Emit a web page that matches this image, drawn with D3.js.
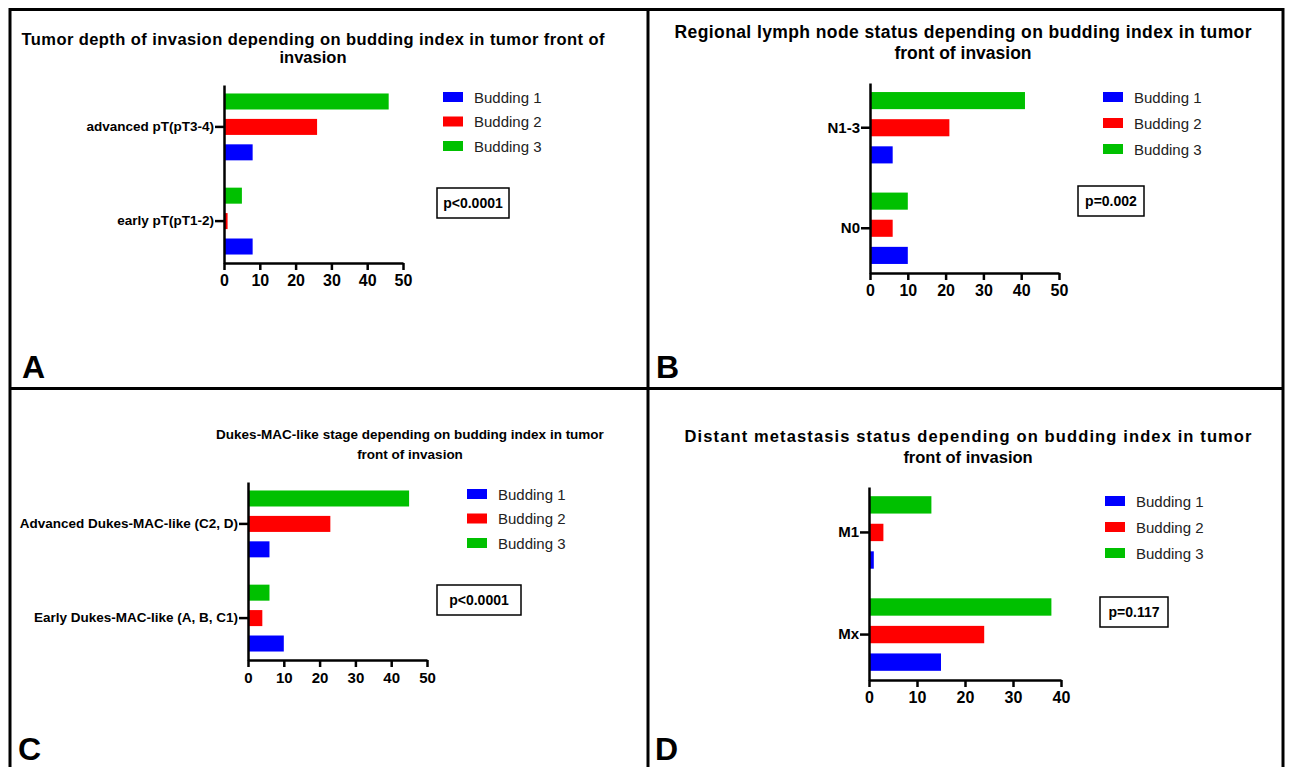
<!DOCTYPE html>
<html>
<head>
<meta charset="utf-8">
<script src="https://cdn.jsdelivr.net/npm/d3@7"></script>
<style>
  body { margin: 0; background: #fff; }
  svg { display: block; font-family: "Liberation Sans", Arial, sans-serif; }
  .axis path, .axis line { stroke: #000; stroke-width: 2.5; }
  .axis text { font-weight: bold; fill: #000; }
</style>
</head>
<body>
<div id="chart"></div>
<script>
// budding index vs. four clinical parameters, 2x2 panels

var seriesNames = ["Budding 1", "Budding 2", "Budding 3"];
var seriesColors = ["#0000ff", "#ff0000", "#00c000"];

// A - depth of invasion (categories listed top to bottom)
var categoriesA = ["advanced pT(pT3-4)", "early pT(pT1-2)"];
var budding1A = [8, 8];
var budding2A = [26, 1];
var budding3A = [46, 5];
var ticksA = [0, 10, 20, 30, 40, 50];

// B - lymph node status
var categoriesB = ["N1-3", "N0"];
var budding1B = [6, 10];
var budding2B = [21, 6];
var budding3B = [41, 10];
var ticksB = [0, 10, 20, 30, 40, 50];

// C - Dukes-MAC-like stage
var categoriesC = ["Advanced Dukes-MAC-like (C2, D)", "Early Dukes-MAC-like (A, B, C1)"];
var budding1C = [6, 10];
var budding2C = [23, 4];
var budding3C = [45, 6];
var ticksC = [0, 10, 20, 30, 40, 50];

// D - distant metastasis
var categoriesD = ["M1", "Mx"];
var budding1D = [1, 15];
var budding2D = [3, 24];
var budding3D = [13, 38];
var ticksD = [0, 10, 20, 30, 40];

var panels = [
  { letter: "A", cats: categoriesA, vals: [budding1A, budding2A, budding3A], ticks: ticksA,
    title: ["Tumor depth of invasion depending on budding index in tumor front of", "invasion"],
    pText: "p<0.0001",
    plot: { x0: 224, x1: 403, y0: 85, y1: 263 },
    fs: { x: 16, y: 13.5 },
    t: { x: 313, y: 40, gap: 18, size: 16.5, len: 583 },
    lg: { x: 443, y: 97, gap: 24.5 },
    pb: { x: 437, y: 188, w: 72, h: 30 },
    lt: { x: 22, y: 378 } },
  { letter: "B", cats: categoriesB, vals: [budding1B, budding2B, budding3B], ticks: ticksB,
    title: ["Regional lymph node status depending on budding index in tumor", "front of invasion"],
    pText: "p=0.002",
    plot: { x0: 870, x1: 1059, y0: 83, y1: 273 },
    fs: { x: 16, y: 15 },
    t: { x: 963, y: 33, gap: 21, size: 17.5, len: 577 },
    lg: { x: 1103, y: 97, gap: 26 },
    pb: { x: 1078, y: 186, w: 66, h: 30 },
    lt: { x: 656, y: 378 } },
  { letter: "C", cats: categoriesC, vals: [budding1C, budding2C, budding3C], ticks: ticksC,
    title: ["Dukes-MAC-like stage depending on budding index in tumor", "front of invasion"],
    pText: "p<0.0001",
    plot: { x0: 248, x1: 427, y0: 482, y1: 660 },
    fs: { x: 15, y: 13.5 },
    t: { x: 410, y: 434, gap: 20, size: 13.5, len: 0 },
    lg: { x: 467, y: 494, gap: 24.5 },
    pb: { x: 437, y: 585, w: 84, h: 30 },
    lt: { x: 18, y: 760 } },
  { letter: "D", cats: categoriesD, vals: [budding1D, budding2D, budding3D], ticks: ticksD,
    title: ["Distant metastasis status depending on budding index in tumor", "front of invasion"],
    pText: "p=0.117",
    plot: { x0: 869, x1: 1061, y0: 487, y1: 680 },
    fs: { x: 16, y: 15 },
    t: { x: 968, y: 437, gap: 21, size: 16.5, len: 567 },
    lg: { x: 1105, y: 501, gap: 26 },
    pb: { x: 1100, y: 597, w: 68, h: 30 },
    lt: { x: 655, y: 760 } }
];

var svg = d3.select("#chart")
  .append("svg")
  .attr("width", 1293)
  .attr("height", 767);

// frame and dividers
var frame = svg.append("g")
  .attr("stroke", "#000")
  .attr("stroke-width", 3)
  .attr("fill", "none");
frame.append("rect").attr("x", 10).attr("y", 9.5).attr("width", 1273).attr("height", 760);
frame.append("line").attr("x1", 648).attr("x2", 648).attr("y1", 9).attr("y2", 767);
frame.append("line").attr("x1", 10).attr("x2", 1283).attr("y1", 388.5).attr("y2", 388.5);

panels.forEach(function(p) {
  var g = svg.append("g");

  var x = d3.scaleLinear()
    .domain([0, d3.max(p.ticks)])
    .range([p.plot.x0, p.plot.x1]);

  var y0 = d3.scaleBand()
    .domain(p.cats)
    .range([p.plot.y0, p.plot.y1])
    .paddingInner(0.29)
    .paddingOuter(0.09);

  // green on top, blue at bottom within each group
  var y1 = d3.scaleBand()
    .domain([2, 1, 0])
    .range([0, y0.bandwidth()])
    .paddingInner(0.37);

  var rows = [];
  p.cats.forEach(function(c, ci) {
    p.vals.forEach(function(arr, si) {
      rows.push({ cat: c, s: si, v: arr[ci] });
    });
  });

  g.selectAll(".bar")
    .data(rows)
    .enter().append("rect")
    .attr("class", "bar")
    .attr("x", x(0))
    .attr("y", function(d) { return y0(d.cat) + y1(d.s); })
    .attr("width", function(d) { return x(d.v) - x(0); })
    .attr("height", y1.bandwidth())
    .attr("fill", function(d) { return seriesColors[d.s]; });

  g.append("g")
    .attr("class", "x axis")
    .attr("transform", "translate(0," + p.plot.y1 + ")")
    .call(d3.axisBottom(x).tickValues(p.ticks).tickSize(7).tickSizeOuter(0).tickPadding(5))
    .selectAll("text")
    .attr("font-size", p.fs.x);

  g.append("g")
    .attr("class", "y axis")
    .attr("transform", "translate(" + p.plot.x0 + ",0)")
    .call(d3.axisLeft(y0).tickSize(9).tickSizeOuter(0).tickPadding(1))
    .selectAll("text")
    .attr("font-size", p.fs.y);

  // title
  p.title.forEach(function(line, i) {
    var t = g.append("text")
      .attr("x", p.t.x)
      .attr("y", p.t.y + i * p.t.gap + 5)
      .attr("text-anchor", "middle")
      .attr("font-size", p.t.size)
      .attr("font-weight", "bold")
      .text(line);
    if (i === 0 && p.t.len) t.attr("textLength", p.t.len);
  });

  // legend
  var lg = g.selectAll(".lg")
    .data(seriesNames)
    .enter().append("g")
    .attr("transform", function(d, i) { return "translate(" + p.lg.x + "," + (p.lg.y + i * p.lg.gap) + ")"; });
  lg.append("rect")
    .attr("x", 0).attr("y", -5)
    .attr("width", 20).attr("height", 10)
    .attr("fill", function(d, i) { return seriesColors[i]; });
  lg.append("text")
    .attr("x", 31).attr("y", 5.5)
    .attr("font-size", 15)
    .attr("fill", "#222")
    .text(function(d) { return d; });

  // p value box
  g.append("rect")
    .attr("x", p.pb.x).attr("y", p.pb.y)
    .attr("width", p.pb.w).attr("height", p.pb.h)
    .attr("fill", "none").attr("stroke", "#000").attr("stroke-width", 1.5);
  g.append("text")
    .attr("x", p.pb.x + p.pb.w / 2)
    .attr("y", p.pb.y + p.pb.h / 2 + 5)
    .attr("text-anchor", "middle")
    .attr("font-size", 14)
    .attr("font-weight", "bold")
    .text(p.pText);

  // panel letter
  g.append("text")
    .attr("x", p.lt.x).attr("y", p.lt.y)
    .attr("font-size", 32)
    .attr("font-weight", "bold")
    .text(p.letter);
});
</script>
</body>
</html>
